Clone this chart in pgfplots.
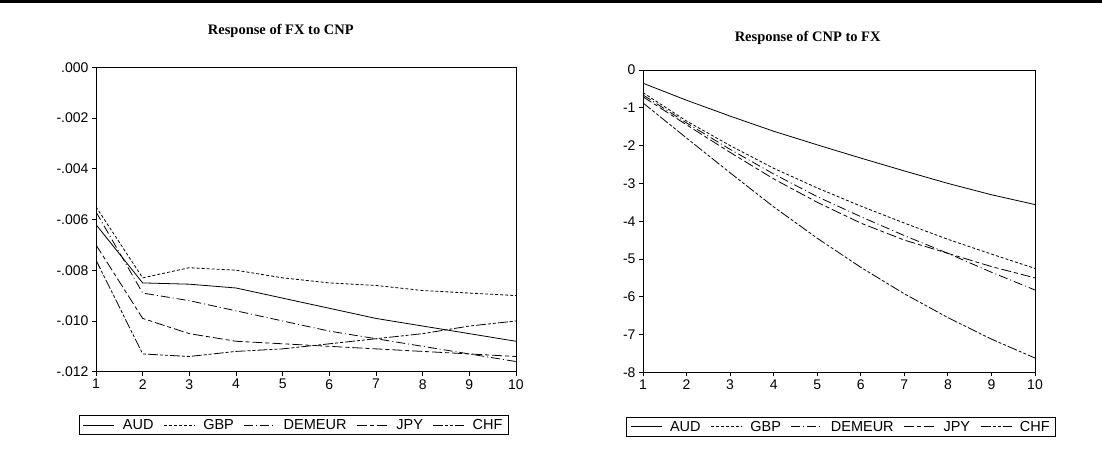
\documentclass[border=0pt]{standalone}
\usepackage{pgfplots}
\pgfplotsset{compat=1.18}
\usepackage{pgfplotstable}
\usepackage{fontspec}
\setmainfont{Liberation Sans}
\newfontfamily\titlefont{Liberation Serif}

\pgfplotstableread{
x AUD GBP DEMEUR JPY CHF
1 -0.0062 -0.0055 -0.0057 -0.0070 -0.0076
2 -0.0085 -0.0083 -0.0089 -0.0099 -0.0113
3 -0.00855 -0.0079 -0.0092 -0.0105 -0.0114
4 -0.0087 -0.0080 -0.0096 -0.0108 -0.0112
5 -0.0091 -0.0083 -0.0100 -0.0109 -0.0111
6 -0.0095 -0.0085 -0.0104 -0.0110 -0.0109
7 -0.0099 -0.0086 -0.0107 -0.0111 -0.0107
8 -0.0102 -0.0088 -0.0110 -0.0112 -0.0105
9 -0.0105 -0.0089 -0.0113 -0.0113 -0.0102
10 -0.0108 -0.0090 -0.0116 -0.0114 -0.0100
}\leftdata

\pgfplotstableread{
x AUD GBP DEMEUR JPY CHF
1 -0.35 -0.60 -0.66 -0.71 -0.87
2 -0.80 -1.35 -1.40 -1.45 -1.80
3 -1.22 -2.00 -2.10 -2.18 -2.72
4 -1.62 -2.60 -2.75 -2.88 -3.62
5 -1.98 -3.12 -3.35 -3.50 -4.45
6 -2.33 -3.60 -3.88 -4.05 -5.22
7 -2.67 -4.05 -4.38 -4.50 -5.92
8 -3.00 -4.48 -4.85 -4.85 -6.55
9 -3.30 -4.87 -5.35 -5.20 -7.12
10 -3.56 -5.25 -5.82 -5.50 -7.62
}\rightdata

\tikzset{
  sAUD/.style={black, line width=0.8pt, solid},
  sGBP/.style={black, line width=0.8pt, dash pattern=on 3pt off 2pt},
  sDEM/.style={black, line width=0.8pt, dash pattern=on 9pt off 3pt on 1pt off 3pt},
  sJPY/.style={black, line width=0.8pt, dash pattern=on 10pt off 3pt on 4pt off 3pt},
  sCHF/.style={black, line width=0.8pt, dash pattern=on 10pt off 2pt on 3pt off 2pt on 3pt off 2pt},
}

\pgfplotsset{
  panel/.style={
    scale only axis,
    anchor=south west,
    xmin=1, xmax=10,
    xtick={1,...,10},
    xticklabels={1,2,3,4,5,6,7,8,9,10},
    scaled y ticks=false,
    axis line style={black, line width=0.9pt},
    tick style={black, line width=0.8pt},
    tick align=outside,
    xtick pos=bottom, ytick pos=left,
    major tick length=4pt,
    tick label style={font=\fontsize{14}{16}\selectfont},
    title style={font=\titlefont\bfseries\fontsize{14.5}{16}\selectfont},
    legend columns=5,
    legend cell align=left,
    legend image code/.code={\draw[##1] (0pt,0pt) -- (31pt,0pt); \path (37pt,0pt);},
    legend style={draw=black, line width=0.8pt, font=\fontsize{14.5}{16}\selectfont,
      anchor=center, inner xsep=4pt, inner ysep=2pt,
      /tikz/every even column/.append style={column sep=8pt}},
  }
}

\begin{document}
\begin{tikzpicture}
\path[use as bounding box] (0pt,0pt) rectangle (1102pt,-462pt);
\fill[black] (0pt,0pt) rectangle (1102pt,-3pt);

\begin{axis}[panel,
  at={(96pt,-371.7pt)}, width=420pt, height=304.4pt,
  ymin=-0.012, ymax=0,
  ytick={0,-0.002,-0.004,-0.006,-0.008,-0.010,-0.012},
  yticklabels={.000,-.002,-.004,-.006,-.008,-.010,-.012},
  title={Response of FX to CNP},
  title style={at={(0.44,1)}, anchor=south, yshift=20pt},
  legend style={at={(0.471,-0.175)}},
]
\addplot[sAUD] table[x=x,y=AUD]{\leftdata}; \addlegendentry{AUD}
\addplot[sGBP] table[x=x,y=GBP]{\leftdata}; \addlegendentry{GBP}
\addplot[sDEM] table[x=x,y=DEMEUR]{\leftdata}; \addlegendentry{DEMEUR}
\addplot[sJPY] table[x=x,y=JPY]{\leftdata}; \addlegendentry{JPY}
\addplot[sCHF] table[x=x,y=CHF]{\leftdata}; \addlegendentry{CHF}
\end{axis}

\begin{axis}[panel,
  at={(643pt,-372.4pt)}, width=392pt, height=302.4pt,
  ymin=-8, ymax=0,
  ytick={0,-1,-2,-3,-4,-5,-6,-7,-8},
  yticklabels={0,-1,-2,-3,-4,-5,-6,-7,-8},
  title={Response of CNP to FX},
  title style={at={(0.42,1)}, anchor=south, yshift=16pt},
  legend style={at={(0.505,-0.18)}},
]
\addplot[sAUD] table[x=x,y=AUD]{\rightdata}; \addlegendentry{AUD}
\addplot[sGBP] table[x=x,y=GBP]{\rightdata}; \addlegendentry{GBP}
\addplot[sDEM] table[x=x,y=DEMEUR]{\rightdata}; \addlegendentry{DEMEUR}
\addplot[sJPY] table[x=x,y=JPY]{\rightdata}; \addlegendentry{JPY}
\addplot[sCHF] table[x=x,y=CHF]{\rightdata}; \addlegendentry{CHF}
\end{axis}
\end{tikzpicture}
\end{document}
